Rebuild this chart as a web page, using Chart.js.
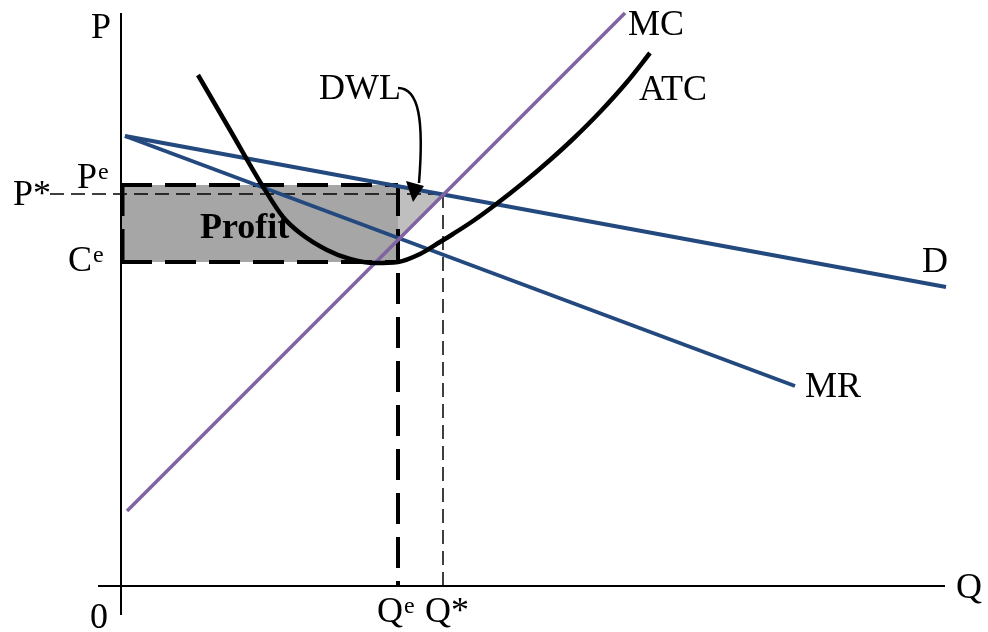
<!DOCTYPE html>
<html>
<head>
<meta charset="utf-8">
<script src="https://cdn.jsdelivr.net/npm/chart.js@4.4.1/dist/chart.umd.min.js"></script>
<style>
  body { margin: 0; background: #fff; }
  canvas { display: block; }
</style>
</head>
<body>
<canvas id="econ" width="988" height="632"></canvas>
<script>
// curves (Q across, P up)
var mcQ = [0.6, 50.4];
var mcP = [7.5, 57.3];
var dQ = [0.4, 82.5];
var dP = [45.0, 29.9];
var mrQ = [0.4, 67.4];
var mrP = [45.0, 20.0];
var atcQ = [7.7, 10.9, 14.1, 16.2, 17.9, 20.6, 22.9, 25.4, 27.7, 29.9, 31.9, 33.2, 35.2, 37.4, 40.2, 42.9, 45.2, 47.9, 50.6, 52.9];
var atcP = [51.1, 45.6, 40.1, 36.9, 35.3, 33.6, 32.7, 32.3, 32.4, 33.2, 34.4, 35.2, 36.5, 38.1, 40.3, 42.6, 44.7, 47.4, 50.4, 53.3];

// equilibrium values
var Qe = 27.7, Qstar = 32.2;
var Pe = 40.1, Pstar = 39.2, Ce = 32.4;
var dwlQ = [Qe, Qstar, Qe];
var dwlP = [40.0, 39.2, 34.6];

var qRange = [-2.3, 82.4];
var pRange = [-2.9, 57.3];

var blue = "#23497e";
var purple = "#8064a2";

function pts(qs, ps) {
    return qs.map(function (q, i) { return { x: q, y: ps[i] }; });
}

function line(data, color, width, dash) {
    return {
        data: data,
        showLine: true,
        borderColor: color,
        borderWidth: width,
        borderDash: dash || [],
        pointRadius: 0,
        fill: false,
        tension: 0,
        clip: false
    };
}

var datasets = [
    line(pts(atcQ, atcP), "#000", 4.5),
    line(pts(mcQ, mcP), purple, 3.5),
    line(pts(dQ, dP), blue, 4),
    line(pts(mrQ, mrP), blue, 4),
    // thick dashed box round the profit and the Qe drop line
    line(pts([0, Qe], [Pe, Pe]), "#000", 4, [31, 13]),
    line(pts([0, Qe], [Ce, Ce]), "#000", 4, [31, 13]),
    line(pts([0.15, 0.15], [Pe, Ce]), "#000", 4, [31, 13]),
    line(pts([Qe, Qe], [Pe, 0]), "#000", 4, [31, 13]),
    // thin dashed P* and Q*
    line(pts([-7.1, Qstar], [Pstar, Pstar]), "#000", 1.5, [14, 7]),
    line(pts([Qstar, Qstar], [Pstar, 0]), "#000", 1.5, [14, 7]),
    // axes
    line(pts([0, 0], [pRange[0], 57.3]), "#000", 2),
    line(pts([qRange[0], qRange[1]], [0, 0]), "#000", 2)
];
datasets[0].cubicInterpolationMode = "monotone";

// fills go last so they are drawn underneath
var profitFill = line(pts([0, Qe, Qe, 0], [Pe, Pe, Ce, Ce]), "rgba(0,0,0,0)", 0);
profitFill.fill = "shape";
profitFill.backgroundColor = "#a6a6a6";
var dwlFill = line(pts(dwlQ, dwlP), "rgba(0,0,0,0)", 0);
dwlFill.fill = "shape";
dwlFill.backgroundColor = "#bfbfbf";
datasets.push(dwlFill, profitFill);

var labels = [
    { t: "P", q: -3.0, p: 54.8 },
    { t: "0", q: -3.1, p: -4.2 },
    { t: "Q", q: 83.5, p: -1.2 },
    { t: "MC", q: 50.7, p: 55.1 },
    { t: "ATC", q: 51.8, p: 48.6 },
    { t: "DWL", q: 19.8, p: 48.7 },
    { t: "D", q: 80.1, p: 31.4 },
    { t: "MR", q: 68.4, p: 18.9 },
    { t: "P*", q: -10.8, p: 38.1 },
    { t: "P", sup: "e", q: -4.4, p: 39.8 },
    { t: "C", sup: "e", q: -5.3, p: 31.5 },
    { t: "Q", sup: "e", q: 25.6, p: -3.6 },
    { t: "Q*", q: 30.4, p: -3.6 },
    { t: "Profit", bold: true, q: 7.9, p: 34.8 }
];

var textPlugin = {
    id: "econText",
    afterDatasetsDraw: function (chart) {
        var c = chart.ctx, xs = chart.scales.x, ys = chart.scales.y;
        var X = function (q) { return xs.getPixelForValue(q); };
        var Y = function (p) { return ys.getPixelForValue(p); };
        c.save();
        c.fillStyle = "#000";
        c.textAlign = "left";
        c.textBaseline = "alphabetic";
        labels.forEach(function (l) {
            c.font = (l.bold ? "bold " : "") + "36px 'Liberation Serif', 'Times New Roman', serif";
            var x = X(l.q), y = Y(l.p);
            c.fillText(l.t, x, y);
            if (l.sup) {
                var w = c.measureText(l.t).width;
                c.font = "24px 'Liberation Serif', 'Times New Roman', serif";
                c.fillText(l.sup, x + w + 1, y - 9);
            }
        });

        // DWL arrow
        c.strokeStyle = "#000";
        c.lineWidth = 2.5;
        c.beginPath();
        c.moveTo(X(27.7), Y(49.8));
        c.bezierCurveTo(X(29.8), Y(49.8), X(30.3), Y(46.6), X(29.8), Y(40.3));
        c.stroke();
        c.beginPath();
        c.moveTo(X(29.2), Y(38.4));
        c.lineTo(X(28.5), Y(40.5));
        c.lineTo(X(30.3), Y(40.0));
        c.closePath();
        c.fill();
        c.restore();
    }
};

new Chart(document.getElementById("econ").getContext("2d"), {
    type: "scatter",
    data: { datasets: datasets },
    options: {
        responsive: false,
        animation: false,
        layout: { padding: { left: 98, right: 43, top: 13, bottom: 17 } },
        scales: {
            x: { type: "linear", display: false, min: qRange[0], max: qRange[1] },
            y: { type: "linear", display: false, min: pRange[0], max: pRange[1] }
        },
        plugins: {
            legend: { display: false },
            tooltip: { enabled: false }
        }
    },
    plugins: [textPlugin]
});
</script>
</body>
</html>
